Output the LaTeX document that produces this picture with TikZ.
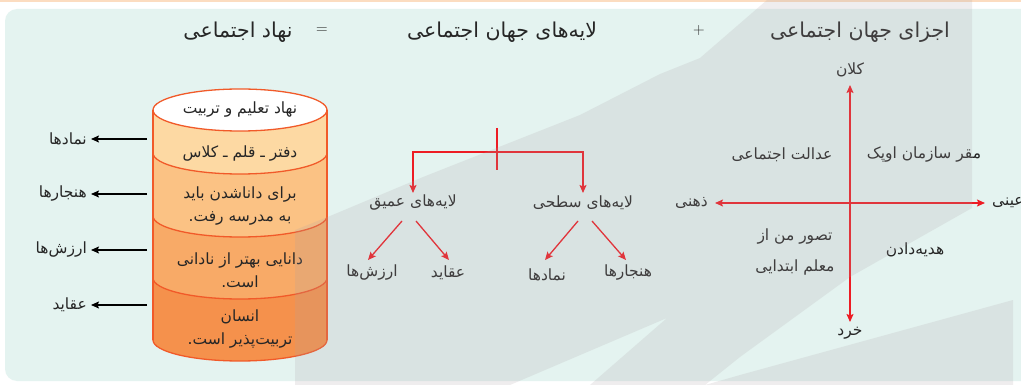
\documentclass[tikz,border=0pt]{standalone}
\usepackage{fontspec}
\usetikzlibrary{arrows.meta,calc}
\newfontfamily\fa[Script=Arabic]{DejaVu Sans}
\TeXXeTstate=1
\newcommand{\fatxt}[1]{{\fa\beginR #1\endR}}
\definecolor{bgteal}{HTML}{E4F3F0}
\definecolor{wmgray}{RGB}{172,162,166}
\definecolor{peachline}{HTML}{FCDCC0}
\definecolor{cylline}{HTML}{F15A29}
\definecolor{layA}{HTML}{FDD9A3}
\definecolor{layB}{HTML}{FBC284}
\definecolor{layC}{HTML}{F8AA67}
\definecolor{layD}{HTML}{F5914C}
\definecolor{redc}{HTML}{ED1C24}
\definecolor{txtc}{HTML}{262626}
\tikzset{
  wm/.style={fill=wmgray, fill opacity=0.19},
  ttl/.style={text=txtc, font=\fontsize{20.5}{24}\selectfont, inner sep=1pt},
  sym/.style={text=txtc, font=\fontsize{16}{18}\selectfont, inner sep=1pt},
  lbl/.style={text=txtc, font=\fontsize{15.5}{18}\selectfont, inner sep=1pt},
  cyltxt/.style={text=txtc, font=\fontsize{15.5}{23}\selectfont, align=center, inner sep=1pt},
  ra/.style={draw=redc, line width=1.3pt, -{Stealth[length=8pt,width=7pt,inset=1.5pt]}},
  rl/.style={draw=redc, line width=1.3pt},
  rab/.style={draw=redc, line width=1.3pt, {Stealth[length=8pt,width=7pt,inset=1.5pt]}-{Stealth[length=8pt,width=7pt,inset=1.5pt]}},
  ba/.style={draw=black, line width=1.3pt, -{Stealth[length=8pt,width=7pt,inset=1.5pt]}},
  cyl/.style={draw=cylline, line width=1.3pt}
}
\begin{document}
\begin{tikzpicture}[x=1pt,y=-1pt]
\useasboundingbox (0,0) rectangle (1021,385);
% background
\fill[white] (0,0) rectangle (1021,385);
\fill[peachline] (0,0) rectangle (1021,2.5);
\fill[bgteal, rounded corners=12pt] (5,9) rectangle (1040,381);

% cylinder layers (bottom first)
\fill[layD] (153,278) -- (153,340) .. controls (153,351.6) and (191.95,361) .. (240,361) .. controls (288.05,361) and (327,351.6) .. (327,340) -- (327,278) -- cycle;
\fill[layC] (153,216) -- (153,278) .. controls (153,289.6) and (191.95,299) .. (240,299) .. controls (288.05,299) and (327,289.6) .. (327,278) -- (327,216) -- cycle;
\fill[layB] (153,153) -- (153,216) .. controls (153,227.6) and (191.95,237) .. (240,237) .. controls (288.05,237) and (327,227.6) .. (327,216) -- (327,153) -- cycle;
\fill[layA] (153,110) -- (153,153) .. controls (153,164.6) and (191.95,174) .. (240,174) .. controls (288.05,174) and (327,164.6) .. (327,153) -- (327,110) -- cycle;
\filldraw[fill=white, cyl] (240,110) ellipse [x radius=87pt, y radius=21pt];
\draw[cyl] (153,110) -- (153,340);
\draw[cyl] (327,110) -- (327,340);
\draw[cyl] (153,153) .. controls (153,164.6) and (191.95,174) .. (240,174) .. controls (288.05,174) and (327,164.6) .. (327,153);
\draw[cyl] (153,216) .. controls (153,227.6) and (191.95,237) .. (240,237) .. controls (288.05,237) and (327,227.6) .. (327,216);
\draw[cyl] (153,278) .. controls (153,289.6) and (191.95,299) .. (240,299) .. controls (288.05,299) and (327,289.6) .. (327,278);
\draw[cyl] (153,340) .. controls (153,351.6) and (191.95,361) .. (240,361) .. controls (288.05,361) and (327,351.6) .. (327,340);

% cylinder texts
\node[cyltxt] (inst) at (240,110) {\fatxt{نهاد تعلیم و تربیت}};
\node[cyltxt] (symb) at (240,154) {\fatxt{دفتر ـ قلم ـ کلاس}};
\node[cyltxt] (norm) at (240,206) {\fatxt{برای داناشدن باید}\\\fatxt{به مدرسه رفت.}};
\node[cyltxt] (valu) at (240,270) {\fatxt{دانایی بهتر از نادانی}\\\fatxt{است.}};
\node[cyltxt] (beli) at (240,329) {\fatxt{انسان}\\\fatxt{تربیت‌پذیر است.}};

% left labels and arrows
\coordinate (c1) at (147,139);
\coordinate (c2) at (147,194);
\coordinate (c3) at (147,250);
\coordinate (c4) at (147,305);
\node[lbl, anchor=east, inner sep=4pt] (l1) at (91,139) {\fatxt{نمادها}};
\node[lbl, anchor=east, inner sep=4pt] (l2) at (91,194) {\fatxt{هنجارها}};
\node[lbl, anchor=east, inner sep=4pt] (l3) at (91,250) {\fatxt{ارزش‌ها}};
\node[lbl, anchor=east, inner sep=4pt] (l4) at (91,305) {\fatxt{عقاید}};
\draw[ba] (c1) -- (l1.east);
\draw[ba] (c2) -- (l2.east);
\draw[ba] (c3) -- (l3.east);
\draw[ba] (c4) -- (l4.east);

% titles
\node[ttl] (t1) at (238,32) {\fatxt{نهاد اجتماعی}};
\node[sym] (eq) at (322,31) {=};
\node[ttl] (t2) at (502,32) {\fatxt{لایه‌های جهان اجتماعی}};
\node[sym] (pl) at (699,31) {+};
\node[ttl] (t3) at (860,32) {\fatxt{اجزای جهان اجتماعی}};

% tree
\coordinate (stubtop) at (497,128);
\coordinate (stubbot) at (497,170);
\coordinate (junc) at (497,152);
\node[lbl] (deep) at (413,203) {\fatxt{لایه‌های عمیق}};
\node[lbl] (surf) at (583,203) {\fatxt{لایه‌های سطحی}};
\node[lbl] (arz) at (372,273) {\fatxt{ارزش‌ها}};
\node[lbl] (aqa) at (448,273) {\fatxt{عقاید}};
\node[lbl] (nam) at (547,275) {\fatxt{نمادها}};
\node[lbl] (han) at (628,273) {\fatxt{هنجارها}};
\draw[rl] (stubtop) -- (stubbot);
\draw[ra] (junc) -| (413,193);
\draw[ra] (junc) -| (583,193);
\draw[ra] ($(deep)+(-11,18)$) -- ($(arz)+(-4,-13)$);
\draw[ra] ($(deep)+(3,18)$) -- ($(aqa)+(1,-13)$);
\draw[ra] ($(surf)+(-5,18)$) -- ($(nam)+(-2,-15)$);
\draw[ra] ($(surf)+(9,18)$) -- ($(han)+(-2,-13)$);

% quadrant chart
\coordinate (top) at (850,85);
\coordinate (bot) at (850,322);
\coordinate (lft) at (715,203);
\coordinate (rgt) at (985,203);
\draw[rab] (bot) -- (top);
\draw[rab] (lft) -- (rgt);
\node[lbl] (kalan) at (850,70) {\fatxt{کلان}};
\node[lbl] (khord) at (850,333) {\fatxt{خرد}};
\node[lbl, anchor=east] (zehni) at (709,203) {\fatxt{ذهنی}};
\node[lbl, anchor=west] (eini) at (991,203) {\fatxt{عینی}};
\node[lbl] (q1) at (782,155) {\fatxt{عدالت اجتماعی}};
\node[lbl] (q2) at (924,155) {\fatxt{مقر سازمان اوپک}};
\node[lbl, align=center, font=\fontsize{15.5}{31}\selectfont] (q3) at (795,252) {\fatxt{تصور من از}\\\fatxt{معلم ابتدایی}};
\node[lbl] (q4) at (915,250) {\fatxt{هدیه‌دادن}};

% watermark
\fill[wm, even odd rule] (295,385) -- (295,230) -- (330,216) -- (423,177) -- (580,115) -- (660,74) -- (700,58) -- (767,0) -- (972,0) -- (972,208) -- (850,277) -- (740,357) -- (705,385) -- cycle
  (510,385) -- (667,318) -- (590,385) -- cycle;
\fill[wm] (705,385) -- (740,375) -- (1013,300) -- (1013,385) -- cycle;
\end{tikzpicture}
\end{document}
